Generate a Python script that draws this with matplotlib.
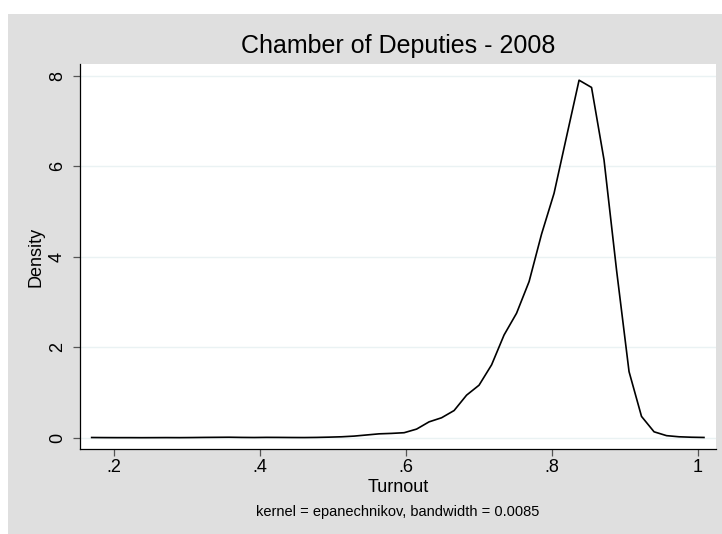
import matplotlib
matplotlib.use("Agg")
import matplotlib.pyplot as plt
from matplotlib.patches import Rectangle

# kdensity evaluation grid (50 points, min to max of turnout)
turnout = [0.1694, 0.1865, 0.2037, 0.2208, 0.2379, 0.2551, 0.2722, 0.2893,
           0.3064, 0.3236, 0.3407, 0.3578, 0.3750, 0.3921, 0.4092, 0.4264,
           0.4435, 0.4606, 0.4777, 0.4949, 0.5120, 0.5291, 0.5463, 0.5634,
           0.5805, 0.5977, 0.6148, 0.6319, 0.6490, 0.6662, 0.6833, 0.7004,
           0.7176, 0.7347, 0.7518, 0.7690, 0.7861, 0.8032, 0.8203, 0.8375,
           0.8546, 0.8717, 0.8889, 0.9060, 0.9231, 0.9403, 0.9574, 0.9745,
           0.9916, 1.0087]
density = [0.004, 0.002, 0.001, 0.001, 0.000, 0.001, 0.002, 0.001,
           0.003, 0.006, 0.008, 0.010, 0.006, 0.004, 0.007, 0.006,
           0.004, 0.003, 0.006, 0.012, 0.020, 0.035, 0.060, 0.085,
           0.095, 0.110, 0.190, 0.350, 0.440, 0.600, 0.940, 1.160,
           1.610, 2.270, 2.750, 3.450, 4.500, 5.400, 6.650, 7.900,
           7.740, 6.140, 3.700, 1.460, 0.470, 0.130, 0.045, 0.020,
           0.010, 0.005]

x_ticks = [0.2, 0.4, 0.6, 0.8, 1.0]
x_labels = ['.2', '.4', '.6', '.8', '1']
y_ticks = [0, 2, 4, 6, 8]

plt.rcParams['font.family'] = ['Liberation Sans', 'DejaVu Sans']

W, H = 722, 534
fig = plt.figure(figsize=(W / 100, H / 100), dpi=100, facecolor='white')

# grey graph region (Stata style), kept behind the axes
fig.patches.append(Rectangle((8 / W, 0), (W - 8) / W, (H - 14) / H,
                             transform=fig.transFigure, facecolor='#dfdfdf',
                             edgecolor='none', zorder=-10))

ax = fig.add_axes([80 / W, (H - 449) / H, 636 / W, 385 / H])
ax.set_zorder(1)
ax.set_facecolor('white')

ax.plot(turnout, density, color='black', lw=1.2, zorder=3)

ax.set_xlim(0.1534, 1.0252)
ax.set_ylim(-0.25, 8.258)
ax.set_xticks(x_ticks)
ax.set_xticklabels(x_labels)
ax.set_yticks(y_ticks)
ax.set_yticklabels([str(v) for v in y_ticks], rotation=90, va='center')

# light horizontal grid lines
for v in y_ticks:
    ax.axhline(v, color='#eaf2f3', lw=1.0, zorder=1)

for side in ['top', 'right']:
    ax.spines[side].set_visible(False)
for side in ['left', 'bottom']:
    ax.spines[side].set_color('black')
    ax.spines[side].set_linewidth(0.9)

ax.tick_params(axis='both', direction='out', length=5, width=0.9,
               color='#555555', labelsize=13)
ax.tick_params(axis='x', pad=2)
ax.tick_params(axis='y', pad=5)

fig.text(398 / W, (H - 45.5) / H, 'Chamber of Deputies - 2008',
         ha='center', va='center', fontsize=18)
fig.text(398 / W, (H - 488) / H, 'Turnout', ha='center', va='center',
         fontsize=13)
fig.text(36 / W, (H - 256.5) / H, 'Density', ha='center', va='center',
         rotation=90, fontsize=13)
fig.text(398 / W, (H - 512) / H,
         'kernel = epanechnikov, bandwidth = 0.0085',
         ha='center', va='center', fontsize=10.5)

fig.savefig('out.png', dpi=100, facecolor='white')
